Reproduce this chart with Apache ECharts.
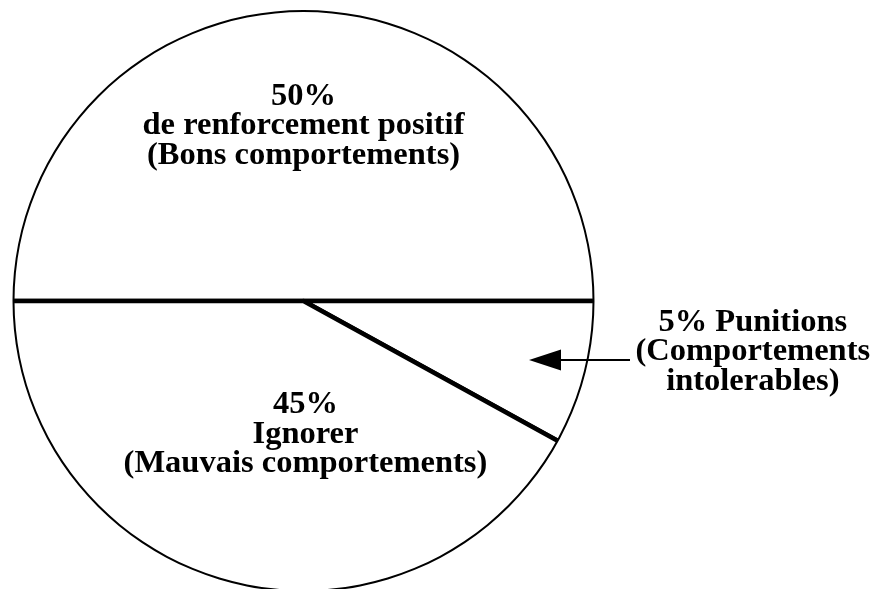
<!DOCTYPE html>
<html>
<head>
<meta charset="utf-8">
<script src="https://cdn.jsdelivr.net/npm/echarts@6/dist/echarts.min.js"></script>
<style>html,body{margin:0;padding:0;background:#fff}#c{width:878px;height:589px}</style>
</head>
<body>
<div id="c"></div>
<script>
// Slice order clockwise from 9 o'clock
const categories = ['Renforcement positif', 'Punitions', 'Ignorer'];
// Slice sizes as drawn (angles)
const sliceValues = [50, 8, 42];
// Printed labels
const percentLabels = ['50%', '5% Punitions', '45%'];
const labelLine2 = ['de renforcement positif', '(Comportements', 'Ignorer'];
const labelLine3 = ['(Bons comportements)', 'intolerables)', '(Mauvais comportements)'];

const CX = 303.5, CY = 301, R = 290;
const offsets = [[0, -26], [305, 14], [39, -11]];

const chart = echarts.init(document.getElementById('c'), null, {renderer: 'canvas'});
const font = {fontFamily: 'Liberation Serif', fontWeight: 'bold', fontSize: 32.5, lineHeight: 29.5, color: '#000'};

const data = categories.map((c, i) => ({
  name: c,
  value: sliceValues[i],
  label: {
    show: true,
    position: 'inside',
    offset: offsets[i],
    formatter: () => percentLabels[i] + '\n' + labelLine2[i] + '\n' + labelLine3[i],
    ...font
  }
}));

chart.setOption({
  animation: false,
  series: [
    {
      type: 'pie',
      center: [CX, CY],
      radius: [0, R + 2],
      startAngle: 180,
      clockwise: true,
      silent: true,
      emphasis: {disabled: true},
      avoidLabelOverlap: false,
      itemStyle: {color: '#fff', borderColor: '#000', borderWidth: 4.5},
      labelLine: {show: false},
      data: data,
      z: 1
    },
    {
      type: 'pie',
      center: [CX, CY],
      radius: [R - 0.5, R + 8],
      silent: true,
      emphasis: {disabled: true},
      label: {show: false},
      labelLine: {show: false},
      itemStyle: {color: '#fff', borderWidth: 0},
      data: [{value: 1, name: 'mask'}],
      z: 2
    },
    {
      type: 'pie',
      center: [CX, CY],
      radius: [R - 1, R + 1],
      silent: true,
      emphasis: {disabled: true},
      label: {show: false},
      labelLine: {show: false},
      itemStyle: {color: '#000', borderWidth: 0},
      data: [{value: 1, name: 'outline'}],
      z: 3
    }
  ],
  graphic: [
    {type: 'line', shape: {x1: 558, y1: 360, x2: 630, y2: 360}, style: {stroke: '#000', lineWidth: 2}, z: 10},
    {type: 'polygon', shape: {points: [[529, 360], [561, 349.5], [561, 370.5]]}, style: {fill: '#000'}, z: 10}
  ]
});
</script>
</body>
</html>
